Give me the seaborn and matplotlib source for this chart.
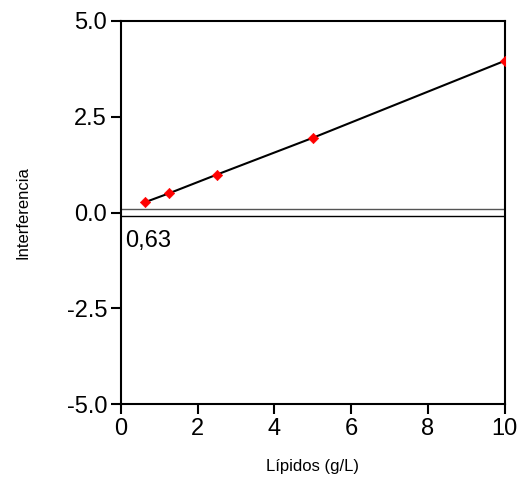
import matplotlib
matplotlib.use("Agg")
import matplotlib.pyplot as plt
import seaborn as sns
import pandas as pd
from matplotlib.ticker import FormatStrFormatter

lipidos = [0.63, 1.25, 2.5, 5.0, 10.0]
interferencia = [0.27, 0.5, 0.99, 1.95, 3.96]
limits = [0.09, -0.09]
xticks = [0, 2, 4, 6, 8, 10]
yticks = [-5.0, -2.5, 0.0, 2.5, 5.0]

df = pd.DataFrame({"x": lipidos, "y": interferencia})

sns.set_theme(style="ticks")
plt.rcParams['font.family'] = ['Liberation Sans', 'DejaVu Sans']
plt.rcParams['text.color'] = 'black'
plt.rcParams['axes.labelcolor'] = 'black'
plt.rcParams['xtick.labelcolor'] = 'black'
plt.rcParams['ytick.labelcolor'] = 'black'

fig = plt.figure(figsize=(5.28, 4.88), dpi=100)
ax = fig.add_axes([0.229, 0.172, 0.727, 0.785])

for i, lim in enumerate(limits):
    ax.axhline(lim, color="#555555" if i == 0 else "black", lw=1.0, zorder=1)

sns.lineplot(data=df, x="x", y="y", ax=ax, color="black", lw=1.5, zorder=2)
sns.scatterplot(data=df, x="x", y="y", ax=ax, color="red", marker="D", s=28,
                edgecolor="red", zorder=3)

ax.text(0.12, -0.45, "0,63", fontsize=17, ha="left", va="top", color="black")

ax.set_xlim(0, 10)
ax.set_ylim(-5, 5)
ax.set_xticks(xticks)
ax.set_yticks(yticks)
ax.yaxis.set_major_formatter(FormatStrFormatter("%.1f"))
ax.tick_params(axis="both", labelsize=17, length=7, width=1.5, color="black",
               direction="out", pad=3)
ax.set_xlabel("Lípidos (g/L)", fontsize=12, labelpad=14)
ax.set_ylabel("Interferencia", fontsize=12, labelpad=26)
for s in ax.spines.values():
    s.set_linewidth(1.5)
    s.set_color("black")
    s.set_visible(True)

fig.savefig("out.png", dpi=100)
